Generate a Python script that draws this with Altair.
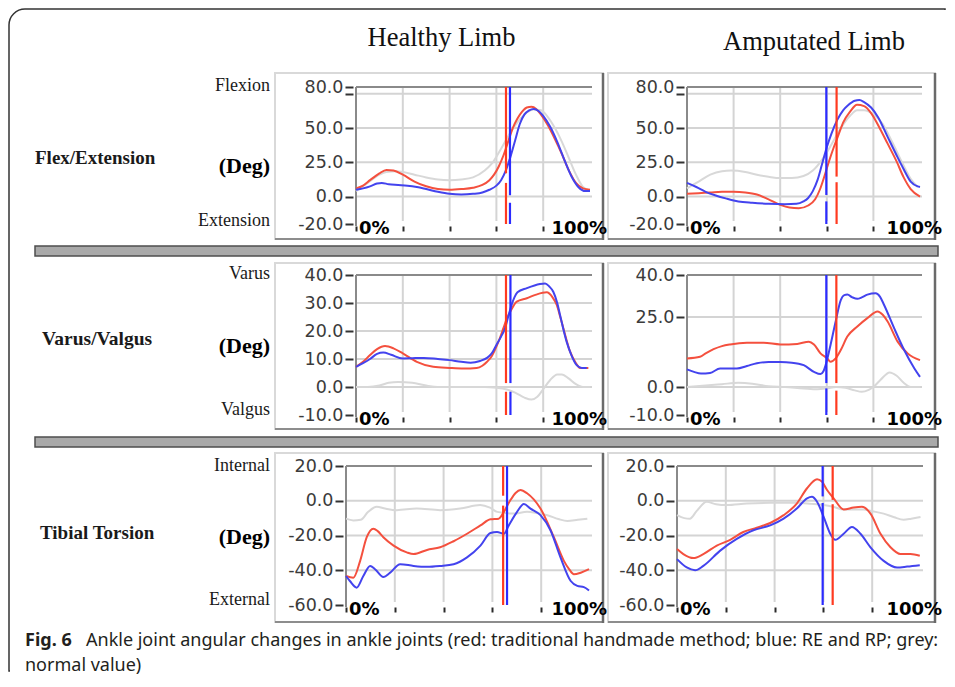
import altair as alt
import pandas as pd

# ---------------- data (gait cycle %, degrees) ----------------
# Row 1: Flex/Extension
R1H_GRAY_X = [0, 5, 10, 13, 17, 20, 25, 30, 35, 40, 45, 50, 55, 58, 62, 65, 68, 72, 76, 79, 82, 85, 88, 91, 94, 97, 99]
R1H_GRAY_Y = [4, 10, 16, 18, 18.5, 18, 16, 14, 12.5, 12, 12.5, 14, 19, 24, 35, 44, 52, 60, 63.5, 63, 58, 50, 40, 28, 16, 7, 5]
R1H_RED_X = [0, 3, 6, 10, 13, 16, 20, 25, 30, 35, 40, 45, 50, 54, 57, 59, 61, 63, 65, 67, 69, 71, 73, 75, 77, 79, 82, 85, 88, 91, 94, 97, 100]
R1H_RED_Y = [6, 8, 12, 17, 19.5, 19, 16, 11, 7.5, 5.5, 5, 5.5, 6.5, 8.5, 12, 16, 22, 30, 40, 50, 57, 62, 65, 65.5, 64, 60, 52, 42, 31, 19, 10, 6, 5]
R1H_BLUE_X = [0, 3, 6, 9, 11, 14, 18, 22, 26, 30, 35, 40, 45, 50, 54, 57, 60, 62, 64, 66, 68, 70, 72, 74, 76, 78, 80, 83, 86, 89, 92, 95, 98, 100]
R1H_BLUE_Y = [5, 6, 7.5, 9.5, 10, 9, 8.5, 8, 7, 5.5, 3.5, 2, 1.5, 2, 3, 5, 8, 12, 19, 29, 41, 53, 60, 63, 64, 62.5, 59, 51, 40, 27, 15, 7, 4, 4]
R1H_EV_X = [64.1, 64.1, 65.8, 65.8]
R1H_EV_Y1 = [80, 10, 80, -4.5]
R1H_EV_Y2 = [17, -20, 1, -20]
R1H_EV_S = ["red", "red", "blue", "blue"]

R1A_GRAY_X = [0, 5, 10, 15, 19, 25, 30, 35, 40, 45, 50, 54, 58, 62, 66, 70, 73, 76, 80, 84, 88, 92, 96, 99]
R1A_GRAY_Y = [6, 11, 16, 18.5, 19, 18, 16, 14.5, 13.5, 13.5, 15, 19, 27, 38, 50, 59, 63, 63, 60, 53, 40, 26, 13, 7]
R1A_RED_X = [0, 5, 10, 15, 20, 25, 30, 35, 40, 44, 48, 52, 55, 57, 59, 61, 63, 65, 67, 70, 73, 76, 79, 83, 86, 90, 93, 96, 100]
R1A_RED_Y = [2, 2.5, 3, 3.5, 3.5, 3, 1.5, -2, -6, -8, -8.5, -6.5, -2, 5, 15, 26, 36, 45, 54, 62, 67, 66, 61, 49, 39, 25.5, 14, 5.5, 0]
R1A_BLUE_X = [0, 4, 8, 12, 17, 22, 28, 35, 42, 47, 50, 52, 54, 56, 58, 60, 62, 64.5, 67, 69, 72, 74, 76, 79, 82, 86, 90, 93, 96, 99, 100]
R1A_BLUE_Y = [10, 7, 3.5, 1, -1.5, -3.5, -4.5, -5.2, -5.5, -5.3, -3.5, -1, 4, 12, 24, 36, 46, 56, 63, 66.5, 70, 70.5, 69, 65, 58, 44, 30, 20, 11, 7.5, 7]
R1A_EV_X = [59.8, 59.8, 64.2, 64.2]
R1A_EV_Y1 = [80, -3.5, 80, 10.5]
R1A_EV_Y2 = [1.2, -20, 14.6, -20]
R1A_EV_S = ["blue", "blue", "red", "red"]

# Row 2: Varus/Valgus
R2H_GRAY_X = [0, 5, 10, 14, 18, 24, 30, 35, 45, 55, 60, 64, 68, 72, 75, 77.5, 80, 83, 86, 88, 91, 94, 97, 100]
R2H_GRAY_Y = [0, 0, 0.5, 1.5, 1.8, 1.5, 0.5, 0, 0, 0, -0.3, -0.8, -2, -3.8, -4.5, -3.5, -0.8, 2.5, 4.5, 4.5, 3, 1, 0, 0]
R2H_RED_X = [0, 3, 6, 9, 12.4, 16, 20, 26, 33, 40, 46, 51.6, 54, 56, 58, 60, 61.5, 63, 64.5, 66, 68.7, 73, 77, 81.5, 84, 85.8, 87.3, 88.6, 91.5, 94, 95.7, 99.3]
R2H_RED_Y = [7.2, 9, 11.4, 13.5, 14.6, 13.8, 12, 9, 7.2, 6.8, 6.6, 6.8, 7.6, 9, 11, 14.4, 17.5, 21, 24.5, 27, 30.5, 31.7, 33, 33.8, 32, 29.3, 25, 21, 12.6, 8.5, 6.8, 6.8]
R2H_BLUE_X = [0, 3, 6, 9, 11.7, 15, 20, 24, 29, 35, 40, 45, 49, 53, 56, 58, 60, 62, 63.7, 65, 66.5, 67.7, 69, 73, 78.6, 80.8, 82.5, 84.3, 86, 87.2, 90, 92, 94.3, 96.5, 98.6]
R2H_BLUE_Y = [7.2, 8.5, 10, 11.8, 12.3, 11.5, 10.2, 10.3, 10.4, 10, 9.6, 9, 8.7, 9.3, 10.4, 12, 15, 18, 21, 25, 29.3, 32, 33.8, 35.3, 36.8, 37, 36, 34, 30, 25.7, 16.2, 11.5, 7.8, 6.8, 6.8]
R2H_EV_X = [64.1, 64.1, 66.0, 66.0]
R2H_EV_Y1 = [40, -1.7, 40, -1.7]
R2H_EV_Y2 = [1.4, -10, 1.4, -10]
R2H_EV_S = ["red", "red", "blue", "blue"]

R2A_GRAY_X = [0, 8, 15, 22, 28, 35, 42, 50, 56, 60, 64, 68, 72, 75, 78, 80, 83, 87, 90, 93, 96, 100]
R2A_GRAY_Y = [0, 0.5, 1, 1.5, 1.2, 0.3, 0, -0.5, -0.8, -0.5, 0, -0.3, -1.2, -1.7, -1, 0, 2.5, 5.2, 4, 1.5, 0, 0]
R2A_RED_X = [0, 5.6, 8, 11.4, 15, 18.5, 25.7, 32.9, 40.1, 47.3, 52.3, 54.5, 57.3, 60.2, 61.6, 63.8, 66, 68.8, 73.1, 77.4, 81.8, 84, 86.1, 90.4, 94.7, 100]
R2A_RED_Y = [10.2, 10.8, 12, 13.5, 14.6, 15.2, 15.8, 15.8, 15.2, 15.4, 16.2, 15.2, 12, 10.2, 9, 10.2, 13.2, 18, 21.6, 24.6, 27, 25.8, 23.4, 16.2, 12, 9.6]
R2A_BLUE_X = [0, 3, 6, 9.9, 14.2, 21.4, 25.7, 30, 35, 40.1, 45, 50.1, 54.5, 57.3, 58.5, 59.5, 61.6, 63.8, 66, 67.5, 68.8, 71, 73.1, 75, 77.4, 81, 82.8, 84.6, 88.9, 93.2, 97.6, 100]
R2A_BLUE_Y = [6.3, 5.4, 4.8, 5, 6.6, 6.6, 7.5, 8.5, 8.9, 8.9, 8.7, 7.8, 5.4, 4.6, 5.5, 7.8, 15, 23.4, 31, 32.8, 33, 32, 31.5, 32, 33, 33.5, 32.3, 29.3, 21, 13.2, 6.6, 3.6]
R2A_EV_X = [59.8, 59.8, 64.1, 64.1]
R2A_EV_Y1 = [40, -0.5, 40, -1.3]
R2A_EV_Y2 = [1.4, -10, 1.4, -10]
R2A_EV_S = ["blue", "blue", "red", "red"]

# Row 3: Tibial Torsion
R3H_GRAY_X = [0, 3, 6, 9, 12.6, 16, 20.8, 29, 38.6, 46.8, 55, 59, 62, 68.8, 74.2, 78, 82.5, 87, 90.7, 95, 98.9]
R3H_GRAY_Y = [-10.3, -11.3, -11, -6.5, -3.5, -4.5, -5.4, -4.5, -5.4, -4.5, -2.5, -4, -6.4, -7.4, -6.4, -7, -8.3, -10.5, -11.7, -11, -10.3]
R3H_RED_X = [0, 3, 5.8, 8.5, 11.2, 13, 15.3, 19.5, 24.9, 27.7, 33.2, 38.6, 44.1, 49.6, 55.1, 59.2, 62.6, 64.7, 67.4, 69.5, 71.5, 74.2, 79.7, 85.2, 89.3, 91.5, 93.4, 96.2, 99.6]
R3H_RED_Y = [-43.3, -44.3, -34.6, -21, -16.1, -17.5, -21, -25.8, -29.7, -30.7, -28.3, -26.8, -23.3, -19, -14.2, -10.7, -10.3, -6.4, 0.4, 4.5, 6.2, 4.3, -4.5, -21, -34.6, -39.5, -42.3, -41.4, -39.4]
R3H_BLUE_X = [0, 1.6, 4.4, 7.1, 9.9, 11.9, 15.3, 18.1, 22.2, 27.7, 33.2, 38.6, 44.1, 49.6, 55.1, 59.2, 61.9, 64.7, 66.7, 70.1, 72.9, 75.6, 79.7, 83.8, 87.9, 92.1, 94.8, 97.5, 99.6]
R3H_BLUE_Y = [-43.3, -46.2, -50, -43.3, -37.5, -39.4, -43.9, -41.4, -36.5, -37.5, -38, -37.5, -36.5, -32.6, -25.8, -18.6, -18, -19, -14.2, -6.4, -1.9, -4.5, -8.3, -17, -32.6, -46.2, -49, -49.7, -51.7]
R3H_EV_X = [64.4, 64.4, 66.0]
R3H_EV_Y1 = [20, -2.8, 20]
R3H_EV_Y2 = [2.9, -60, -60]
R3H_EV_S = ["red", "red", "blue"]

R3A_GRAY_X = [0, 3, 5.3, 8, 12.2, 16, 20.4, 28.6, 38.2, 49.1, 55, 60.1, 64, 68.3, 76.5, 80, 84.7, 89, 92.9, 96, 99.8]
R3A_GRAY_Y = [-8.3, -10, -10.3, -6, -0.6, -2, -2.5, -1.6, -1.2, -1.2, -1.8, -2.5, -3.5, -5, -5, -6, -7.4, -9.5, -10.9, -10.3, -9.3]
R3A_RED_X = [0, 2.6, 6.7, 10.8, 16.3, 21.8, 27.2, 32.7, 38.2, 43.7, 49.1, 53.3, 57.4, 59.4, 61.5, 64.2, 68.3, 72.4, 75.8, 79.3, 83.4, 87.5, 91.6, 95.7, 99.5]
R3A_RED_Y = [-27.8, -30.7, -33, -30.7, -25.8, -22.5, -18, -15.5, -12.8, -8.3, -1.6, 7.2, 12.4, 11, 6.2, 1.4, -5, -3.9, -3.5, -7.4, -19, -26.8, -30.7, -30.7, -31.7]
R3A_BLUE_X = [0, 4, 7.4, 10.8, 17.7, 24.5, 31.3, 38.2, 43.7, 49.1, 53.3, 55.3, 57.4, 60.1, 62.8, 64.9, 68.3, 71.7, 75.2, 79.3, 84.7, 90.2, 94.3, 99.5]
R3A_BLUE_Y = [-33.6, -38.4, -40, -37.5, -28.7, -22, -17, -14.2, -10.3, -4.5, 1.4, 2.3, -0.6, -9.3, -19, -22.5, -19, -15.1, -19, -26.8, -34.6, -38.4, -37.9, -37.1]
R3A_EV_X = [59.7, 59.7, 63.8, 63.8]
R3A_EV_Y1 = [20, -1.3, 20, -2.0]
R3A_EV_Y2 = [2.5, -60, 0.5, -60]
R3A_EV_S = ["blue", "blue", "red", "red"]

# axes
R1_DOMAIN = [-20, 80]
R1_TICKS = [80, 75, 50, 25, 0, -20]
R1_GRID = [75, 50, 25, 0]
R2H_DOMAIN = [-10, 40]
R2H_TICKS = [40, 30, 20, 10, 0, -10]
R2H_GRID = [30, 20, 10, 0]
R2A_TICKS = [40, 25, 0, -10]
R2A_GRID = [25, 0]
R3_DOMAIN = [-60, 20]
R3_TICKS = [20, 0, -20, -40, -60]
R3_GRID = [0, -20, -40]
X_TICKS = [0, 20, 40, 60, 80]
X_GRID = [20, 40, 60, 80]

COL_TITLES = ["Healthy Limb", "Amputated Limb"]
ROW_LABELS = ["Flex/Extension", "Varus/Valgus", "Tibial Torsion"]
ROW_TOP = ["Flexion", "Varus", "Internal"]
ROW_BOTTOM = ["Extension", "Valgus", "External"]
CAPTION_BOLD = "Fig. 6"
CAPTION_1 = "Ankle joint angular changes in ankle joints (red: traditional handmade method; blue: RE and RP; grey:"
CAPTION_2 = "normal value)"

# ---------------- styling ----------------
RED = "#f4503e"
BLUE = "#4343ee"
GRAY = "#d8d8d8"
EV_RED = "#ff3a20"
EV_BLUE = "#2b2bff"
ONE = pd.DataFrame({"k": [0]})
LABEL_EXPR = "datum.value == 75 ? '' : replace(format(datum.value, '.1f'), '\u2212', '-')"


def val(v):
    return alt.value(v)


def panel(cw, x0, pw, h, dom, ticks, grids, gray, red, blue, ev, box, r100, title=None):
    xs = alt.Scale(domain=[0, 100], range=[x0, x0 + pw], nice=False, zero=False)
    ys = alt.Scale(domain=dom, nice=False, zero=False)
    xaxis = alt.Axis(values=X_TICKS, labels=False, domain=False, grid=False, ticks=True,
                     tickColor="#2a2a2a", tickWidth=2, tickSize=5, offset=2, title=None, zindex=1)
    yaxis = alt.Axis(values=ticks, labelExpr=LABEL_EXPR, labelFont="DejaVu Sans", labelFontSize=17.5,
                     labelColor="#3b3b3b", tickColor="#333333", tickWidth=2, tickSize=8, domain=False,
                     grid=False, title=None, offset=3 - x0, labelPadding=2, labelOverlap=False, zindex=1)
    X = alt.X("x:Q", scale=xs, axis=xaxis)
    Y = alt.Y("y:Q", scale=ys, axis=yaxis)
    bx1, bx2, by1, by2 = box
    L = []
    L.append(alt.Chart(ONE).mark_rect(fill="white", fillOpacity=0, stroke="#d9d9d9", strokeWidth=2)
             .encode(x=val(bx1), x2=val(bx2), y=val(by1), y2=val(by2)))
    L.append(alt.Chart(ONE).mark_rule(color="#8d8d8d", strokeWidth=2)
             .encode(x=val(bx1), x2=val(bx2), y=val(by2)))
    L.append(alt.Chart(ONE).mark_rule(color="#6a6a6a", strokeWidth=2.5)
             .encode(x=val(bx2), y=val(by1), y2=val(by2 + 1)))
    L.append(alt.Chart(pd.DataFrame({"y": grids})).mark_rule(color="#d4d4d4", strokeWidth=2)
             .encode(y=Y, x=val(x0), x2=val(x0 + pw + 2)))
    L.append(alt.Chart(pd.DataFrame({"x": X_GRID})).mark_rule(color="#d4d4d4", strokeWidth=2)
             .encode(x=X, y=val(0), y2=val(h - 3)))
    L.append(alt.Chart(ONE).mark_rule(color="#8a8a8a", strokeWidth=2)
             .encode(x=val(x0), x2=val(x0 + pw + 2), y=val(0)))
    L.append(alt.Chart(ONE).mark_rule(color="#8a8a8a", strokeWidth=2)
             .encode(x=val(x0), y=val(0), y2=val(h + 2)))
    for (xx, yy), col in [(gray, GRAY), (red, RED), (blue, BLUE)]:
        L.append(alt.Chart(pd.DataFrame({"x": xx, "y": yy}))
                 .mark_line(color=col, strokeWidth=2, interpolate="monotone")
                 .encode(x=X, y=Y))
    evdf = pd.DataFrame({"x": ev[0], "y": ev[1], "y2": ev[2], "s": ev[3]})
    L.append(alt.Chart(evdf).mark_rule(strokeWidth=2.2).encode(
        x=X, y=Y, y2="y2:Q",
        color=alt.Color("s:N", scale=alt.Scale(domain=["red", "blue"], range=[EV_RED, EV_BLUE]), legend=None)))
    L.append(alt.Chart(ONE).mark_text(text="0%", font="DejaVu Sans", fontWeight="bold", fontSize=18,
                                      color="black", align="left", baseline="middle")
             .encode(x=val(x0 + 3), y=val(h + 5)))
    L.append(alt.Chart(ONE).mark_text(text="100%", font="DejaVu Sans", fontWeight="bold", fontSize=18,
                                      color="black", align="right", baseline="middle")
             .encode(x=val(r100), y=val(h + 5)))
    if title is not None:
        t, tx, ty = title
        L.append(alt.Chart(ONE).mark_text(text=t, font="Liberation Serif", fontSize=26.5, color="#111111",
                                          align="center", baseline="middle")
                 .encode(x=val(tx), y=val(ty)))
    return alt.layer(*L).properties(width=cw, height=h)


def txt(t, x, y, size, weight="normal", align="left", font="Liberation Serif", color="#1a1a1a"):
    return (alt.Chart(ONE).mark_text(text=t, font=font, fontSize=size, fontWeight=weight, color=color,
                                     align=align, baseline="middle")
            .encode(x=val(x), y=val(y)))


def bar(y1, y2):
    return (alt.Chart(ONE).mark_rect(fill="#a9a9a9", stroke="#4d4d4d", strokeWidth=1.5)
            .encode(x=val(5), x2=val(908), y=val(y1), y2=val(y2)))


LW = 229
H1, H2, H3 = 137, 140, 139
CAP = "#231f20"

lab1 = alt.layer(
    alt.Chart(ONE).mark_rect(fill="white", fillOpacity=0, stroke="#333333", strokeWidth=1.5,
                             cornerRadiusTopLeft=16)
    .encode(x=val(-21), x2=val(915), y=val(-78), y2=val(584)),
    alt.Chart(ONE).mark_rule(color="white", strokeWidth=2).encode(x=val(915), y=val(-77), y2=val(585)),
    alt.Chart(ONE).mark_rule(color="white", strokeWidth=2).encode(x=val(-20), x2=val(915), y=val(584)),
    bar(159, 169),
    txt(ROW_LABELS[0], 5, 71, 19, "bold"),
    txt("(Deg)", 240, 79, 22, "bold", "right", color="#000000"),
    txt(ROW_TOP[0], 240, -1, 18, align="right"),
    txt(ROW_BOTTOM[0], 240, 134, 18, align="right"),
).properties(width=LW, height=H1)

lab2 = alt.layer(
    bar(162, 172),
    txt(ROW_LABELS[1], 12, 64, 19.5, "bold"),
    txt("(Deg)", 240, 71, 22, "bold", "right", color="#000000"),
    txt(ROW_TOP[1], 240, -1, 18, align="right"),
    txt(ROW_BOTTOM[1], 240, 135, 18, align="right"),
).properties(width=LW, height=H2)

lab3 = alt.layer(
    txt(ROW_LABELS[2], 10, 67, 19, "bold"),
    txt("(Deg)", 240, 71, 22, "bold", "right", color="#000000"),
    txt(ROW_TOP[2], 240, 0, 18, align="right"),
    txt(ROW_BOTTOM[2], 240, 134, 18, align="right"),
    txt(CAPTION_BOLD, -5, 175, 18, "bold", font="Noto Sans", color=CAP),
    txt(CAPTION_1, 56, 175, 18, font="Noto Sans", color=CAP),
    txt(CAPTION_2, -5, 200, 18, font="Noto Sans", color=CAP),
).properties(width=LW, height=H3)

p1h = panel(244, 10, 234, H1, R1_DOMAIN, R1_TICKS, R1_GRID, (R1H_GRAY_X, R1H_GRAY_Y), (R1H_RED_X, R1H_RED_Y),
            (R1H_BLUE_X, R1H_BLUE_Y), (R1H_EV_X, R1H_EV_Y1, R1H_EV_Y2, R1H_EV_S), (-71, 257, -14, 152), 261,
            (COL_TITLES[0], 95.5, -49))
p1a = panel(245, 10, 233, H1, R1_DOMAIN, R1_TICKS, R1_GRID, (R1A_GRAY_X, R1A_GRAY_Y), (R1A_RED_X, R1A_RED_Y),
            (R1A_BLUE_X, R1A_BLUE_Y), (R1A_EV_X, R1A_EV_Y1, R1A_EV_Y2, R1A_EV_S), (-69, 258, -14, 152), 265,
            (COL_TITLES[1], 137, -45))
p2h = panel(244, 10, 234, H2, R2H_DOMAIN, R2H_TICKS, R2H_GRID, (R2H_GRAY_X, R2H_GRAY_Y), (R2H_RED_X, R2H_RED_Y),
            (R2H_BLUE_X, R2H_BLUE_Y), (R2H_EV_X, R2H_EV_Y1, R2H_EV_Y2, R2H_EV_S), (-71, 257, -12, 154), 261)
p2a = panel(245, 10, 233, H2, R2H_DOMAIN, R2A_TICKS, R2A_GRID, (R2A_GRAY_X, R2A_GRAY_Y), (R2A_RED_X, R2A_RED_Y),
            (R2A_BLUE_X, R2A_BLUE_Y), (R2A_EV_X, R2A_EV_Y1, R2A_EV_Y2, R2A_EV_S), (-69, 258, -12, 154), 265)
p3h = panel(244, 0, 244, H3, R3_DOMAIN, R3_TICKS, R3_GRID, (R3H_GRAY_X, R3H_GRAY_Y), (R3H_RED_X, R3H_RED_Y),
            (R3H_BLUE_X, R3H_BLUE_Y), (R3H_EV_X, R3H_EV_Y1, R3H_EV_Y2, R3H_EV_S), (-71, 257, -13, 156), 261)
p3a = panel(245, 0, 244, H3, R3_DOMAIN, R3_TICKS, R3_GRID, (R3A_GRAY_X, R3A_GRAY_Y), (R3A_RED_X, R3A_RED_Y),
            (R3A_BLUE_X, R3A_BLUE_Y), (R3A_EV_X, R3A_EV_Y1, R3A_EV_Y2, R3A_EV_S), (-69, 258, -13, 156), 265)

chart = (alt.concat(lab1, p1h, p1a, lab2, p2h, p2a, lab3, p3h, p3a, columns=3,
                    spacing={"row": 51, "column": 87}, bounds="flush")
         .properties(padding={"left": 0, "top": 0, "right": 0, "bottom": 0})
         .configure_view(stroke=None))

chart.save("out.html", embed_options={"renderer": "svg", "actions": False})
